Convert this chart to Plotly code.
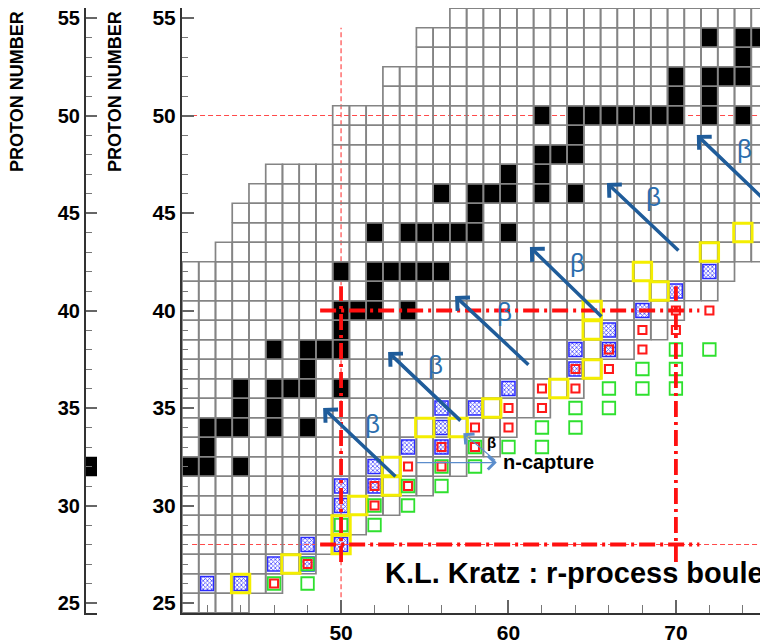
import plotly.graph_objects as go

# ---------------- data ----------------
ROW_Z    = list(range(25, 56))
ROW_NMIN = [41] * 18 + [43, 44, 44, 45, 46, 50, 50, 50, 53, 53, 55, 55, 57]
ROW_NMAX = [44, 46, 48, 49, 51, 53, 55, 57, 59, 60, 62, 64, 65, 67, 69, 70, 72, 73] + [76] * 13

STABLE_Z = [32, 32, 32, 33, 34, 34, 34, 34, 34, 35, 35, 36, 36, 36, 36, 36, 37, 38, 38, 38, 38, 39,
            40, 40, 40, 40, 41, 42, 42, 42, 42, 42, 42, 44, 44, 44, 44, 44, 44, 44, 45,
            46, 46, 46, 46, 46, 46, 47, 47, 48, 48, 48, 49,
            50, 50, 50, 50, 50, 50, 50, 50, 50, 50, 51, 51, 52, 52, 52, 52, 53, 54, 54, 54]
STABLE_N = [41, 42, 44, 42, 42, 43, 44, 46, 48, 44, 46, 44, 46, 47, 48, 50, 48, 46, 48, 49, 50, 50,
            50, 51, 52, 54, 52, 50, 52, 53, 54, 55, 56, 52, 54, 55, 56, 57, 58, 60, 58,
            56, 58, 59, 60, 62, 64, 60, 62, 62, 63, 64, 64,
            62, 64, 65, 66, 67, 68, 69, 70, 72, 74, 70, 72, 70, 72, 73, 74, 74, 72, 74, 75]

BLUE_N = [42, 44, 46, 48, 48, 50, 50, 50, 52, 52, 54, 56, 56, 56, 58, 60, 64, 64, 66, 66, 68, 70, 72]
BLUE_Z = [26, 26, 27, 27, 28, 28, 30, 31, 31, 32, 33, 33, 34, 35, 35, 36, 37, 38, 38, 39, 40, 41, 42]

YELLOW_N = [44, 47, 50, 50, 51, 53, 53, 55, 57, 59, 63, 65, 65, 65, 69, 68, 72, 74]
YELLOW_Z = [26, 27, 28, 29, 30, 31, 32, 34, 34, 35, 36, 37, 39, 40, 41, 42, 43, 44]

GREEN_N = [46, 48, 48, 50, 52, 52, 54, 54, 56, 56, 58, 58, 60, 62, 62, 64, 64, 66, 66, 68, 70, 68, 70, 70, 72]
GREEN_Z = [26, 26, 27, 29, 29, 30, 30, 31, 31, 32, 32, 33, 33, 33, 34, 34, 35, 35, 36, 36, 36, 37, 37, 38, 38]

RED_N = [46, 48, 52, 52, 54, 54, 56, 56, 58, 58, 60, 60, 62, 62, 64, 64, 66, 66, 68, 68, 70, 70, 72]
RED_Z = [26, 27, 30, 31, 31, 32, 32, 33, 33, 34, 34, 35, 35, 36, 36, 37, 37, 38, 38, 39, 39, 40, 40]

# magic numbers (thin guide lines) and the boxed region (thick dash-dot lines)
THIN_H_Z = [50, 28]
THIN_H_FROM, THIN_H_TO = 41.1, 76.0
THIN_V_N = [50]
THIN_V_FROM, THIN_V_TO = 25.3, 54.5
BOX_N = [50, 70]
BOX_Z = [28, 40]
BOX_N_EXT = (48.75, 71.4)
BOX_Z_EXT = (27.1, 41.25)

# beta-decay arrows (tail -> head) and their labels
BETA_TAIL_N = [53.34, 57.22, 61.28, 65.64, 70.24, 75.61]
BETA_TAIL_Z = [31.41, 34.28, 37.15, 39.62, 43.00, 45.41]
BETA_HEAD_N = [48.93, 52.81, 56.81, 61.28, 65.88, 71.25]
BETA_HEAD_Z = [35.00, 37.87, 40.74, 43.26, 46.54, 49.00]
BETA_LAB_N = [51.85, 55.67, 59.79, 64.15, 68.69, 74.12]
BETA_LAB_Z = [34.18, 37.21, 39.92, 42.44, 45.82, 48.28]

X_RANGE = [40.5, 75.5]
Y_RANGE = [24.487, 55.513]
X_TICKS = [50, 60, 70]
Y_TICKS = [25, 30, 35, 40, 45, 50, 55]

# the page adds an 8px body margin, so the figure is drawn 8px smaller
W, H = 760, 635
FONT = "Liberation Sans, Arial, Helvetica, sans-serif"


def rect_path(ns, zs, hw=0.5, hh=0.5):
    xs, ys = [], []
    for n, z in zip(ns, zs):
        xs += [n - hw, n + hw, n + hw, n - hw, n - hw, None]
        ys += [z - hh, z - hh, z + hh, z + hh, z - hh, None]
    return xs, ys


cell_n, cell_z = [], []
for z, n0, n1 in zip(ROW_Z, ROW_NMIN, ROW_NMAX):
    for n in range(n0, n1 + 1):
        cell_n.append(n)
        cell_z.append(z)

fig = go.Figure()

# thin pink guide lines (below black cells)
tx, ty = [], []
for z in THIN_H_Z:
    tx += [THIN_H_FROM, THIN_H_TO, None]
    ty += [z, z, None]
for n in THIN_V_N:
    tx += [n, n, None]
    ty += [THIN_V_FROM, THIN_V_TO, None]
fig.add_trace(go.Scatter(x=tx, y=ty, mode="lines",
                         line=dict(color="#ff4a4a", width=1.2, dash="5px,3px"), hoverinfo="skip"))

# stable nuclei
bx, by = rect_path(STABLE_N, STABLE_Z)
fig.add_trace(go.Scatter(x=bx, y=by, mode="lines", fill="toself", fillcolor="black",
                         line=dict(width=0, color="black"), hoverinfo="skip"))

# grid of known nuclei
gx, gy = rect_path(cell_n, cell_z)
fig.add_trace(go.Scatter(x=gx, y=gy, mode="lines",
                         line=dict(color="#848484", width=1.7), hoverinfo="skip"))

# blue hatched (measured) squares
fig.add_trace(go.Bar(x=BLUE_N, y=[0.72] * len(BLUE_N), base=[z - 0.36 for z in BLUE_Z],
                     width=0.78,
                     marker=dict(color="white", line=dict(color="#2a2aff", width=1.5),
                                 pattern=dict(shape="x", fgcolor="#4a4aff", bgcolor="white",
                                              size=3, solidity=0.45)),
                     hoverinfo="skip"))

# yellow r-process path
fig.add_trace(go.Scatter(x=YELLOW_N, y=YELLOW_Z, mode="markers",
                         marker=dict(symbol="square-open", size=18.5, color="#f4ee00",
                                     line=dict(width=2.8)), hoverinfo="skip"))
# green
fig.add_trace(go.Scatter(x=GREEN_N, y=GREEN_Z, mode="markers",
                         marker=dict(symbol="square-open", size=12.5, color="#2ee02e",
                                     line=dict(width=1.8)), hoverinfo="skip"))
# red
fig.add_trace(go.Scatter(x=RED_N, y=RED_Z, mode="markers",
                         marker=dict(symbol="square-open", size=8, color="#ff1a1a",
                                     line=dict(width=2.1)), hoverinfo="skip"))

# thick dash-dot box lines
kx, ky = [], []
for z in BOX_Z:
    kx += [BOX_N_EXT[0], BOX_N_EXT[1], None]
    ky += [z, z, None]
for n in BOX_N:
    kx += [n, n, None]
    ky += [BOX_Z_EXT[0], BOX_Z_EXT[1], None]
fig.add_trace(go.Scatter(x=kx, y=ky, mode="lines",
                         line=dict(color="#ff1010", width=3.8, dash="16px,5px,3px,5px"),
                         hoverinfo="skip"))

# left (cropped) panel: one stable cell visible
lx, ly = rect_path([41], [32])
fig.add_trace(go.Scatter(x=lx, y=ly, mode="lines", fill="toself", fillcolor="black",
                         line=dict(width=0, color="black"), xaxis="x2", yaxis="y2",
                         hoverinfo="skip"))

ann = []
for tn, tz, hn, hz in zip(BETA_TAIL_N, BETA_TAIL_Z, BETA_HEAD_N, BETA_HEAD_Z):
    ann.append(dict(x=hn, y=hz, ax=tn, ay=tz, xref="x", yref="y", axref="x", ayref="y",
                    text="", showarrow=True, arrowhead=4, arrowsize=1.0, arrowwidth=3.5,
                    arrowcolor="#1f5c9a", standoff=0, startstandoff=0))
for n, z in zip(BETA_LAB_N, BETA_LAB_Z):
    ann.append(dict(x=n, y=z, xref="x", yref="y", text="β", showarrow=False,
                    font=dict(family=FONT, size=26, color="#2c6eae")))

# small n-capture / beta arrows
ann.append(dict(x=59.3, y=32.2, ax=54.42, ay=32.2, xref="x", yref="y", axref="x", ayref="y",
                text="", showarrow=True, arrowhead=4, arrowsize=2.2, arrowwidth=1.2,
                arrowcolor="#5b8dcc", standoff=0))
ann.append(dict(x=57.3, y=33.7, ax=59.3, ay=32.25, xref="x", yref="y", axref="x", ayref="y",
                text="", showarrow=True, arrowhead=4, arrowsize=2.2, arrowwidth=1.2,
                arrowcolor="#5b8dcc", standoff=0))
ann.append(dict(x=59.0, y=33.25, xref="x", yref="y", text="β", showarrow=False,
                font=dict(family=FONT, size=15, color="black", weight="bold")))
ann.append(dict(x=59.55, y=32.22, xref="x", yref="y", text="n-capture", showarrow=False,
                xanchor="left", font=dict(family=FONT, size=20, color="black", weight="bold")))

ann.append(dict(x=52.53, y=26.56, xref="x", yref="y", text="K.L. Kratz : r-process boulevard",
                showarrow=False, xanchor="left", yanchor="middle",
                font=dict(family=FONT, size=29, color="black", weight="bold")))

for px in (9, 107):
    ann.append(dict(x=px / W, y=1 - 84 / 605, xref="paper", yref="paper",
                    xanchor="center", yanchor="middle",
                    text="PROTON NUMBER", textangle=-90, showarrow=False,
                    font=dict(family=FONT, size=18, color="black", weight="bold")))

tickfont = dict(family=FONT, size=21, color="black", weight="bold")

fig.update_layout(
    width=W, height=H,
    margin=dict(l=0, r=0, t=0, b=30),
    template="none",
    paper_bgcolor="white", plot_bgcolor="white",
    showlegend=False, barmode="overlay",
    annotations=ann,
    xaxis=dict(domain=[174 / W, 1], range=X_RANGE, anchor="y",
               showline=True, linecolor="#333333", linewidth=2, mirror=True,
               showgrid=False, zeroline=False, ticklabeloverflow="allow",
               tickmode="array", tickvals=X_TICKS, ticks="inside", ticklen=13,
               tickwidth=1.5, tickcolor="#666666",
               minor=dict(dtick=2, tick0=0, ticks="inside", ticklen=8, tickwidth=1.2,
                          tickcolor="#777777", showgrid=False),
               tickfont=tickfont),
    yaxis=dict(domain=[0, 1], range=Y_RANGE, anchor="x",
               showline=True, linecolor="#333333", linewidth=2, mirror=False,
               showgrid=False, zeroline=False, ticklabeloverflow="allow",
               tickmode="array", tickvals=Y_TICKS, ticks="inside", ticklen=12,
               tickwidth=1.5, tickcolor="#666666",
               minor=dict(dtick=1, tick0=0, ticks="inside", ticklen=6, tickwidth=1.2,
                          tickcolor="#777777", showgrid=False),
               tickfont=tickfont),
    xaxis2=dict(domain=[78 / W, 89 / W], range=[X_RANGE[0], X_RANGE[0] + 11 / 16.743],
                anchor="y2", showline=True, linecolor="#333333", linewidth=2, mirror=True,
                showgrid=False, zeroline=False, ticks="", showticklabels=False),
    yaxis2=dict(domain=[0, 1], range=Y_RANGE, anchor="x2",
                showline=True, linecolor="#333333", linewidth=2,
                showgrid=False, zeroline=False, ticklabeloverflow="allow",
                tickmode="array", tickvals=Y_TICKS, ticks="inside", ticklen=11,
                tickwidth=1.5, tickcolor="#666666",
                minor=dict(dtick=1, tick0=0, ticks="inside", ticklen=6, tickwidth=1.2,
                           tickcolor="#777777", showgrid=False),
                tickfont=dict(family=FONT, size=20, color="black", weight="bold")),
)

fig.write_html("out.html")
